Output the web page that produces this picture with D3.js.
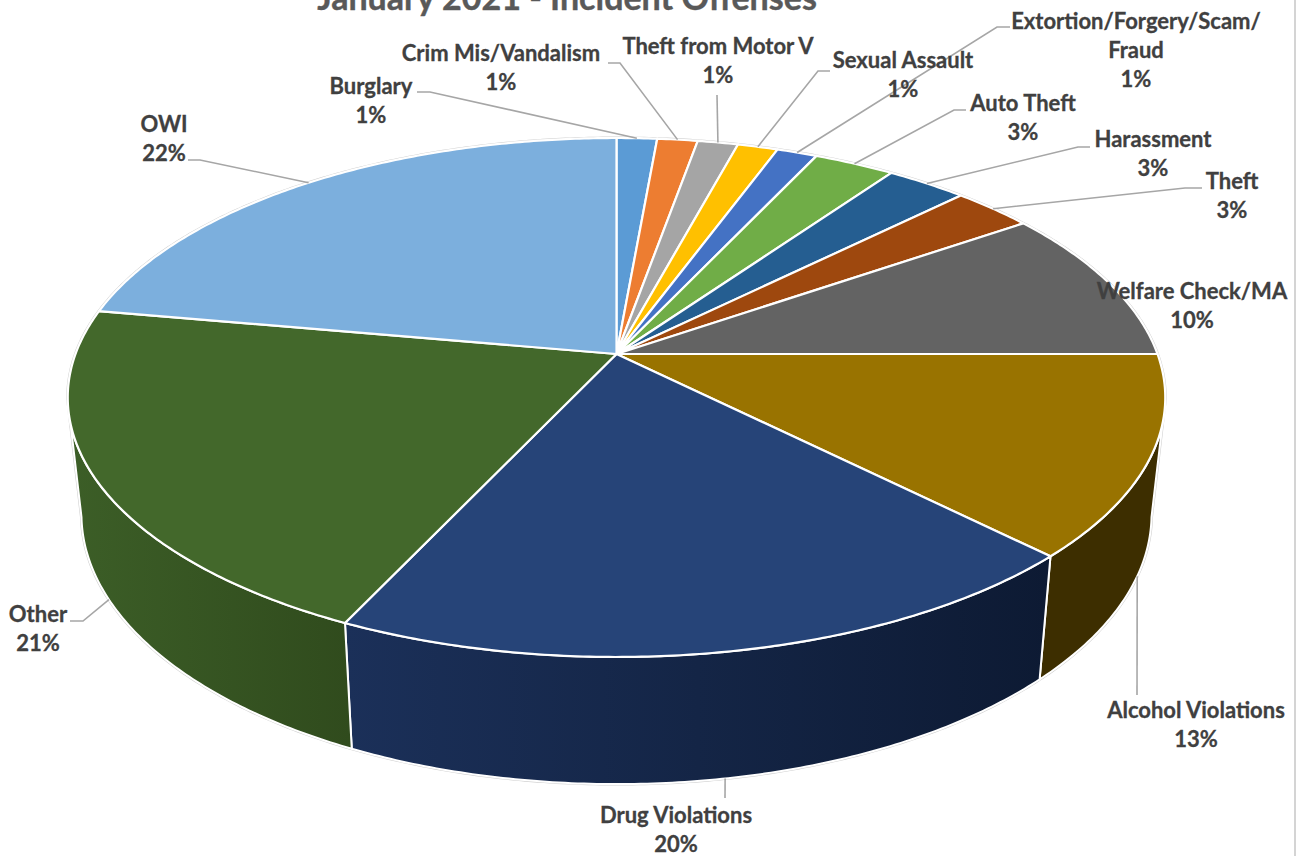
<!DOCTYPE html>
<html><head><meta charset="utf-8">
<script src="https://cdn.jsdelivr.net/npm/d3@7/dist/d3.min.js"></script>
<style>html,body{margin:0;padding:0;background:#fff;overflow:hidden}svg{display:block}
text{font-family:Lato,"Open Sans",sans-serif;font-weight:700}</style></head>
<body><svg id="c" width="1299" height="856"></svg>
<script>
const titleText = "January 2021 - Incident Offenses";
const categories = ["Burglary","Crim Mis/Vandalism","Theft from Motor V","Sexual Assault","Extortion/Forgery/Scam/Fraud","Auto Theft","Harassment","Theft","Welfare Check/MA","Alcohol Violations","Drug Violations","Other","OWI"];
const shares = [1.4,1.4,1.4,1.4,1.4,2.8,2.8,2.8,9.6,12.5,19.5,20.8,22.2];
const colors = ["#5B9BD5","#ED7D31","#A5A5A5","#FFC000","#4472C4","#70AD47","#255E91","#9E480E","#636363","#997300","#264478","#43682B","#7CAFDD"];
const wallStops = {"Alcohol Violations":["#3d2e00","#3d2e00"],"Drug Violations":["#1b3059","#0d1a33"],"Other":["#3c5e27","#304b1d"]};
// label layout: category, centre x, centre y of first line, elbow point of leader (null = no leader)
const labelLayout = [
 ["Burglary",371,86,[[417,92],[430,92]]],
 ["Crim Mis/Vandalism",501,53,[[608,63],[620,63]]],
 ["Theft from Motor V",718,46,[[717,95]]],
 ["Sexual Assault",903,60,[[830,71],[818,71]]],
 ["Extortion/Forgery/Scam/Fraud",1136,21,[[1010,27],[997,27]]],
 ["Auto Theft",1023,103,[[966,110],[954,110]]],
 ["Harassment",1153,139,[[1090,147],[1078,147]]],
 ["Theft",1232,181,[[1202,188],[1185,188]]],
 ["Welfare Check/MA",1192,291,null],
 ["Alcohol Violations",1196,710,[[1137,695]]],
 ["Drug Violations",676,815,[[725,798]]],
 ["Other",38,614,[[70,621],[83,621]]],
 ["OWI",164,124,[[188,160],[200,160]]]
];
const wrapped = {"Extortion/Forgery/Scam/Fraud":["Extortion/Forgery/Scam/","Fraud"]};

const cx=616.5, cy=354, Rx=541, A=252.2, C=-0.1676, depthOff=115, lowX=0.975, lowY=1.04;
const th0 = Math.PI/2 + Math.asin(0.1776);
const thR = th0, thL = 2*Math.PI - th0;

function topPt(t){const u=Math.sin(t), v=-Math.cos(t), w=1+C*v; return [cx+Rx*u/w, cy+A*v/w];}
function lowPt(t){const p=topPt(t); return [cx+lowX*(p[0]-cx), cy+depthOff+lowY*(p[1]-cy)];}
function samples(a,b){const n=Math.max(2,Math.ceil((b-a)/0.01)); return d3.range(n+1).map(i=>a+(b-a)*i/n);}

const svg=d3.select("#c");
const defs=svg.append("defs");
const line=d3.line();
const arcs=d3.pie().sort(null).value(d=>d)(shares).map((d,i)=>({...d,name:categories[i],color:colors[i]}));

// right-hand frame edge
svg.append("rect").attr("x",1294).attr("y",0).attr("width",2).attr("height",856).attr("fill","#d4d4d4");

// outer halo
const hullPts = samples(thR,thL).map(lowPt).concat(samples(thL,thR+2*Math.PI).map(topPt));
svg.append("path").attr("d",line(hullPts)+"Z").attr("fill","none").attr("stroke","#cfcfcf").attr("stroke-width",3);

// walls
arcs.forEach((d,i)=>{
  const a=Math.max(d.startAngle,thR), b=Math.min(d.endAngle,thL);
  if(b<=a) return;
  const s=samples(a,b), T=s.map(topPt), L=s.map(lowPt);
  const xs=T.concat(L).map(p=>p[0]);
  const id="w"+i, stops=wallStops[d.name];
  const g=defs.append("linearGradient").attr("id",id).attr("gradientUnits","userSpaceOnUse")
    .attr("x1",d3.min(xs)).attr("x2",d3.max(xs)).attr("y1",0).attr("y2",0);
  g.append("stop").attr("offset",0).attr("stop-color",stops[0]);
  g.append("stop").attr("offset",1).attr("stop-color",stops[1]);
  svg.append("path").attr("d",line(T.concat(L.reverse()))+"Z").attr("fill",`url(#${id})`)
    .attr("stroke","#fff").attr("stroke-width",2).attr("stroke-linejoin","round");
});

// top face
arcs.forEach(d=>{
  const pts=[[cx,cy]].concat(samples(d.startAngle,d.endAngle).map(topPt));
  svg.append("path").attr("d",line(pts)+"Z").attr("fill",d.color)
    .attr("stroke","#fff").attr("stroke-width",2.2).attr("stroke-linejoin","round");
});

// leaders
labelLayout.forEach(l=>{
  if(!l[3]) return;
  const d=arcs.find(a=>a.name===l[0]);
  const m=(d.startAngle+d.endAngle)/2;
  const end=(m>thR&&m<thL)?lowPt(m):topPt(m);
  svg.append("path").attr("d",line(l[3].concat([end]))).attr("fill","none").attr("stroke","#a6a6a6").attr("stroke-width",1.6);
});

// labels
const labelSize=22, lh=29;
labelLayout.forEach(l=>{
  const d=arcs.find(a=>a.name===l[0]);
  const lines=(wrapped[l[0]]||[l[0]]).concat([Math.round(d.value)+"%"]);
  lines.forEach((t,i)=>{
    svg.append("text").attr("x",l[1]).attr("y",l[2]+i*lh).attr("dy","0.35em")
      .attr("text-anchor","middle").attr("font-size",labelSize).attr("fill","#404040")
      .attr("stroke","#404040").attr("stroke-width",0.3).text(t);
  });
});

svg.append("text").attr("x",567).attr("y",10).attr("text-anchor","middle").attr("font-size",34).attr("fill","#595959").attr("stroke","#595959").attr("stroke-width",0.4).text(titleText);
</script></body></html>
